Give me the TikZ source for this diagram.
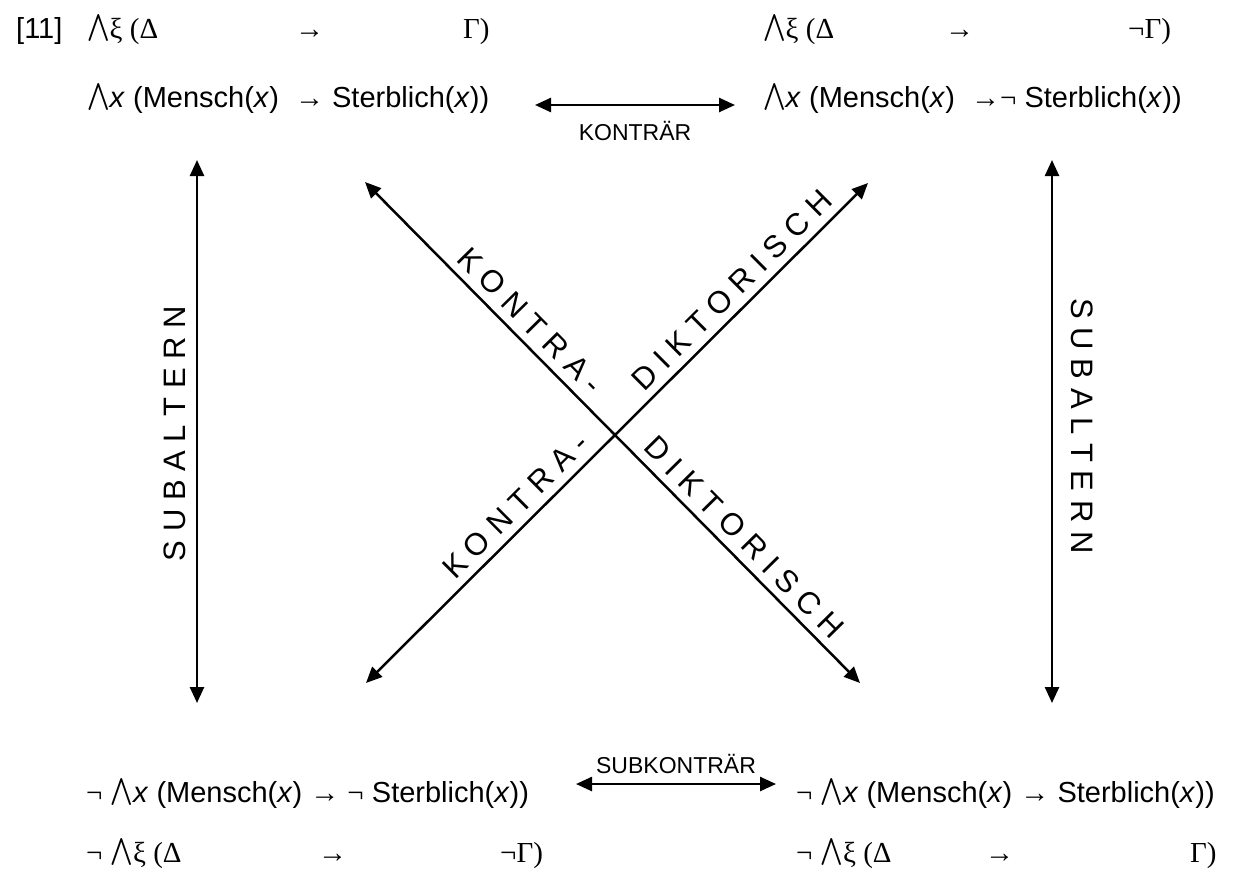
\documentclass[tikz,border=0pt]{standalone}
\usepackage{fontspec}
\setmainfont{Liberation Sans}
\newfontfamily\symf{Liberation Serif}
\usetikzlibrary{arrows.meta}
\newcommand{\BW}{\raisebox{3pt}{\scalebox{2.7}{\fontsize{10}{12}\selectfont$\bigwedge$}}}
\newcommand{\sy}[1]{{\symf #1}}
\newcommand{\vx}{\textit{x}}
\tikzset{
  txt/.style={inner sep=0pt, anchor=base west, font=\fontsize{29}{34}\selectfont},
  lbl/.style={inner sep=0pt, font=\fontsize{23}{27}\selectfont},
  spc/.style={inner sep=0pt, font=\fontsize{31}{36}\selectfont},
  arr/.style={line width=2.5pt, {Triangle[length=16pt,width=14pt]}-{Triangle[length=16pt,width=14pt]}},
}
\begin{document}
\begin{tikzpicture}[x=1pt,y=-1pt]
\useasboundingbox (0,0) rectangle (1244,879);
% top left
\node[txt] (n11) at (16,38) {[11]};
\node[txt] (a1) at (87,38) {\BW\sy{ξ (Δ}};
\node[txt] (a1b) at (295,38) {\sy{→}};
\node[txt] (a1c) at (463,38) {\sy{Γ)}};
\node[txt] (a2) at (87,107) {\BW\vx{} (Mensch(\vx)\ \ \sy{→} Sterblich(\vx))};
% top right
\node[txt] (e1) at (763,38) {\BW\sy{ξ (Δ}};
\node[txt] (e1b) at (945,38) {\sy{→}};
\node[txt] (e1c) at (1128,38) {\sy{¬Γ)}};
\node[txt] (e2) at (763,107) {\BW\vx{} (Mensch(\vx)\ \ \sy{→¬} Sterblich(\vx))};
% bottom left
\node[txt] (o1) at (86,802) {\sy{¬} \BW\vx{} (Mensch(\vx) \sy{→} \sy{¬} Sterblich(\vx))};
\node[txt] (o2) at (86,862) {\sy{¬} \BW\sy{ξ (Δ}};
\node[txt] (o2b) at (318,862) {\sy{→}};
\node[txt] (o2c) at (500,862) {\sy{¬Γ)}};
% bottom right
\node[txt] (i1) at (796,802) {\sy{¬} \BW\vx{} (Mensch(\vx) \sy{→} Sterblich(\vx))};
\node[txt] (i2) at (796,862) {\sy{¬} \BW\sy{ξ (Δ}};
\node[txt] (i2b) at (985,862) {\sy{→}};
\node[txt] (i2c) at (1190,862) {\sy{Γ)}};
% coordinates
\coordinate (ka) at (535,105);
\coordinate (kb) at (735,105);
\coordinate (sa) at (576,784);
\coordinate (sb) at (776,784);
\coordinate (lt) at (197,160);
\coordinate (lb) at (197,703);
\coordinate (rt) at (1052,160);
\coordinate (rb) at (1052,703);
\coordinate (tl) at (365,182);
\coordinate (br) at (860,683);
\coordinate (tr) at (868,183);
\coordinate (bl) at (366,683);
% arrows
\draw[arr] (ka) -- (kb) node[lbl, midway, below=15pt] (kl) {KONTRÄR};
\draw[arr] (sa) -- (sb) node[lbl, midway, above=9pt] (sl) {SUBKONTRÄR};
\draw[arr] (lb) -- (lt) node[spc, pos=0.496, sloped, above=10pt] (ll) {S U B A L T E R N};
\draw[arr] (rt) -- (rb) node[spc, pos=0.49, sloped, above=18pt] (rl) {S U B A L T E R N};
\draw[arr] (tl) -- (br)
  node[spc, pos=0.305, sloped, above=8pt] (d1a) {K O N T R A -}
  node[spc, pos=0.737, sloped, above=8pt] (d1b) {D I K T O R I S C H};
\draw[arr] (bl) -- (tr)
  node[spc, pos=0.326, sloped, above=8pt] (d2a) {K O N T R A -}
  node[spc, pos=0.757, sloped, above=8pt] (d2b) {D I K T O R I S C H};
\end{tikzpicture}
\end{document}
